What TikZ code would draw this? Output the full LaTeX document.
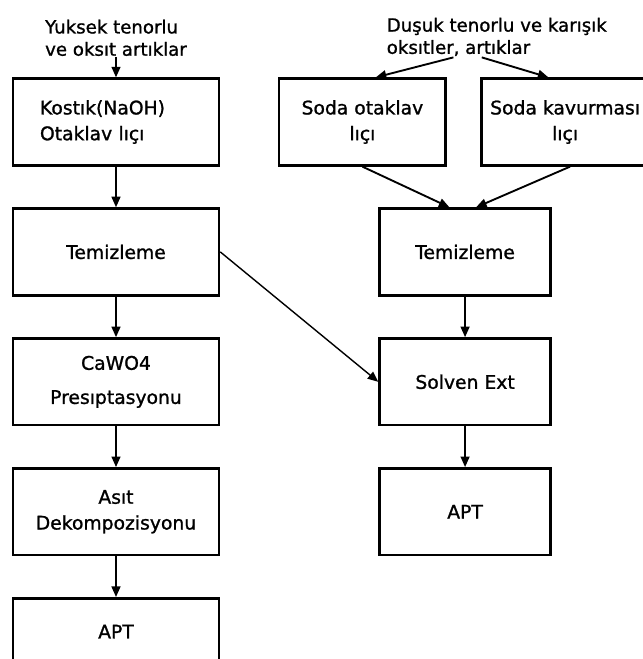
\documentclass[tikz,border=0pt]{standalone}
\usepackage{fontspec}
\setsansfont{DejaVu Sans}[BoldFont={DejaVu Sans}, BoldFeatures={FakeBold=1.2}]
\usepackage{tikz}
\usetikzlibrary{arrows.meta, positioning}

\newcommand{\flowfont}{\sffamily\bfseries\fontsize{16}{22}\selectfont}
\newcommand{\srcfont}{\sffamily\bfseries\fontsize{15.5}{19}\selectfont}

\begin{document}
\begin{tikzpicture}[
  box/.style={rectangle, draw, line width=2.2pt, minimum height=2.6cm, align=center, font=\flowfont},
  lbox/.style={box, minimum width=6.18cm},
  rbox/.style={box, minimum width=5.13cm},
  sbox/.style={box, minimum width=5cm},
  source/.style={inner sep=1pt, font=\srcfont},
  arrow/.style={-{Triangle[length=9pt, width=7.5pt]}, line width=1.6pt}
]
  \useasboundingbox (0,0) rectangle (19.29,-19.77);
  \clip (0,0) rectangle (19.29,-19.77);

  % left branch
  \node[lbox, align=left, text width=4.56cm] (kostik) at (3.48,-3.66) {Kostık(NaOH)\\Otaklav lıçı};
  \node[source, align=left, above=0.6cm of kostik] (srcL) {Yuksek tenorlu\\ve oksıt artıklar};
  \node[lbox, below=1.22cm of kostik] (temL) {Temizleme};
  \node[lbox, below=1.22cm of temL] (cawo) {CaWO4\\[0.25cm]Presıptasyonu};
  \node[lbox, below=1.22cm of cawo] (asit) {Asıt\\Dekompozisyonu};
  \node[lbox, below=1.22cm of asit, minimum height=2cm] (aptL) {APT};

  % right branch
  \node[rbox, right=4.74cm of temL] (temR) {Temizleme};
  \node[rbox, below=1.22cm of temR] (solv) {Solven Ext};
  \node[rbox, below=1.22cm of solv] (aptR) {APT};
  \node[sbox, above=1.22cm of temR, xshift=-3.08cm] (sodaO) {Soda otaklav\\lıçı};
  \node[sbox, above=1.22cm of temR, xshift=3cm] (sodaK) {Soda kavurması\\lıçı};
  \node[source, align=left, above right=0.6cm and -1.85cm of sodaO] (srcR) {Duşuk tenorlu ve karışık\\oksıtler, artıklar};

  \draw[arrow] (srcL) -- (kostik);
  \draw[arrow] (kostik) -- (temL);
  \draw[arrow] (temL) -- (cawo);
  \draw[arrow] (cawo) -- (asit);
  \draw[arrow] (asit) -- (aptL);

  \draw[arrow] ([xshift=-1.3cm]srcR.south) -- ([xshift=0.4cm]sodaO.north);
  \draw[arrow] ([xshift=-0.45cm]srcR.south) -- ([xshift=-0.5cm]sodaK.north);
  \draw[arrow] (sodaO.south) -- ([xshift=-0.47cm]temR.north);
  \draw[arrow] ([xshift=0.15cm]sodaK.south) -- ([xshift=0.33cm]temR.north);
  \draw[arrow] (temR) -- (solv);
  \draw[arrow] (solv) -- (aptR);
  \draw[arrow, line width=1.2pt] (temL.east) -- (solv.west);
\end{tikzpicture}
\end{document}
